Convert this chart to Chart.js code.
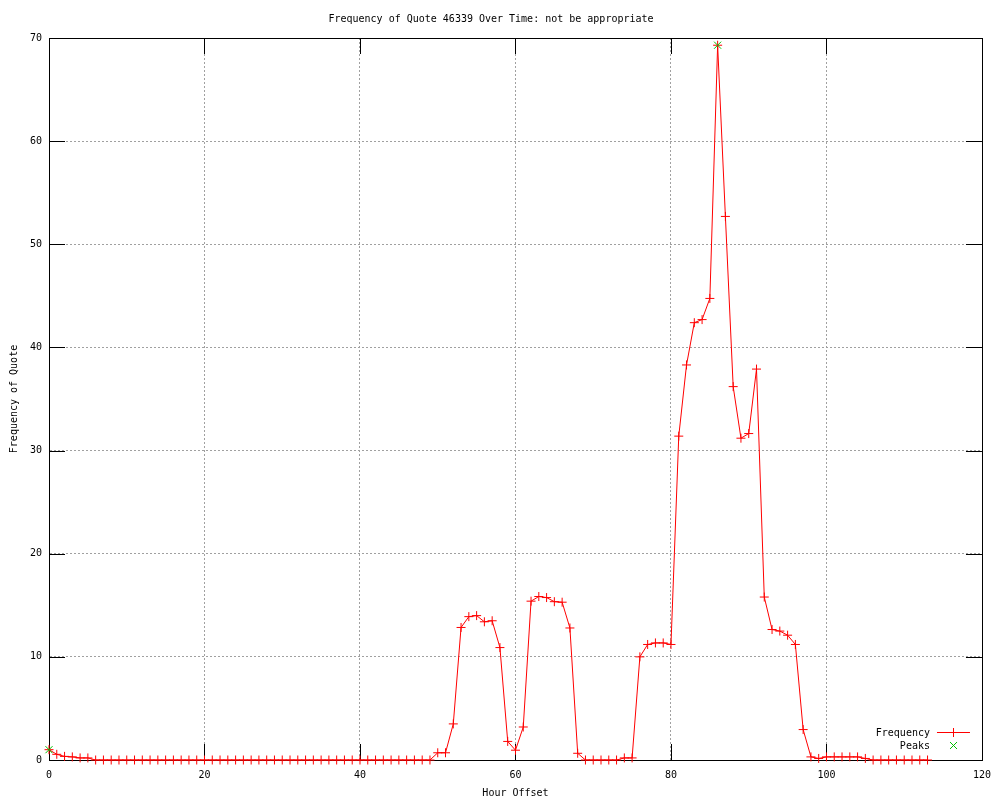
<!DOCTYPE html>
<html>
<head>
<meta charset="utf-8">
<script src="https://cdn.jsdelivr.net/npm/chart.js@4/dist/chart.umd.min.js"></script>
<style>
  body { margin: 0; background: #fff; }
  #wrap { width: 1000px; height: 800px; }
</style>
</head>
<body>
<div id="wrap"><canvas id="quoteChart" width="1000" height="800"></canvas></div>
<script>
// Chart data
const hours = [
    0, 1, 2, 3, 4, 5, 6, 7, 8, 9, 10, 11, 12, 13, 14, 15, 16, 17, 18, 19,
    20, 21, 22, 23, 24, 25, 26, 27, 28, 29, 30, 31, 32, 33, 34, 35, 36, 37, 38, 39,
    40, 41, 42, 43, 44, 45, 46, 47, 48, 49, 50, 51, 52, 53, 54, 55, 56, 57, 58, 59,
    60, 61, 62, 63, 64, 65, 66, 67, 68, 69, 70, 71, 72, 73, 74, 75, 76, 77, 78, 79,
    80, 81, 82, 83, 84, 85, 86, 87, 88, 89, 90, 91, 92, 93, 94, 95, 96, 97, 98, 99,
    100, 101, 102, 103, 104, 105, 106, 107, 108, 109, 110, 111, 112, 113
];
const frequency = [
    1.0, 0.55, 0.35, 0.3, 0.2, 0.2, 0, 0, 0, 0, 0, 0, 0, 0, 0, 0, 0, 0, 0, 0,
    0, 0, 0, 0, 0, 0, 0, 0, 0, 0, 0, 0, 0, 0, 0, 0, 0, 0, 0, 0,
    0, 0, 0, 0, 0, 0, 0, 0, 0, 0, 0.7, 0.7, 3.5, 12.85, 13.9, 14.0, 13.4, 13.5, 10.9, 1.8,
    0.95, 3.2, 15.4, 15.85, 15.75, 15.35, 15.3, 12.8, 0.65, 0, 0, 0, 0, 0, 0.2, 0.2, 10.0, 11.2, 11.35, 11.35,
    11.2, 31.4, 38.3, 42.4, 42.7, 44.75, 69.3, 52.7, 36.2, 31.2, 31.65, 37.9, 15.8, 12.65, 12.5, 12.1, 11.2, 2.95, 0.3, 0.15,
    0.3, 0.3, 0.3, 0.3, 0.3, 0.15, 0, 0, 0, 0, 0, 0, 0, 0
];
const peakHours = [0, 86];
const peakValues = [1.0, 69.3];

const xTicks = [0, 20, 40, 60, 80, 100, 120];
const yTicks = [0, 10, 20, 30, 40, 50, 60, 70];

const FONT = { family: 'DejaVu Sans Mono', size: 10, weight: 'normal' };
const RED = '#ff0000';
const GREEN = '#00c000';
const keyColors = [RED, GREEN];

// Frame + inward tick marks on all four sides
const framePlugin = {
    id: 'frame',
    beforeDatasetsDraw(chart) {
        const { ctx, chartArea: a, scales } = chart;
        const tick = 16;
        const px = v => Math.round(v) + 0.5;
        ctx.save();
        ctx.strokeStyle = '#000';
        ctx.lineWidth = 1;
        ctx.beginPath();
        xTicks.forEach(v => {
            const x = px(scales.x.getPixelForValue(v));
            ctx.moveTo(x, a.bottom); ctx.lineTo(x, a.bottom - tick);
            ctx.moveTo(x, a.top); ctx.lineTo(x, a.top + tick);
        });
        yTicks.forEach(v => {
            const y = px(scales.y.getPixelForValue(v));
            ctx.moveTo(a.left, y); ctx.lineTo(a.left + tick, y);
            ctx.moveTo(a.right, y); ctx.lineTo(a.right - tick, y);
        });
        ctx.stroke();
        ctx.strokeRect(px(a.left), px(a.top), Math.round(a.right - a.left), Math.round(a.bottom - a.top));
        ctx.restore();
    }
};

// gnuplot-style key in the lower right corner
const keyPlugin = {
    id: 'key',
    afterDraw(chart) {
        const { ctx, chartArea: a } = chart;
        const textRight = a.right - 52;
        const sx0 = a.right - 45, sx1 = a.right - 12;
        const mid = Math.round((sx0 + sx1) / 2) + 0.5;
        const rows = [a.bottom - 28, a.bottom - 15];
        ctx.save();
        ctx.font = '10px "DejaVu Sans Mono"';
        ctx.textAlign = 'right';
        ctx.textBaseline = 'middle';
        chart.data.datasets.forEach((ds, i) => {
            const y = Math.round(rows[i]) + 0.5;
            ctx.fillStyle = '#000';
            ctx.fillText(ds.label, textRight, y + 1);
            ctx.strokeStyle = keyColors[i];
            ctx.lineWidth = 1;
            ctx.beginPath();
            if (ds.showLine !== false) {
                ctx.moveTo(sx0, y); ctx.lineTo(sx1, y);
            }
            if (ds.pointStyle === 'cross') {
                ctx.moveTo(mid - 4.5, y); ctx.lineTo(mid + 4.5, y);
                ctx.moveTo(mid, y - 4.5); ctx.lineTo(mid, y + 4.5);
            } else {
                ctx.moveTo(mid - 3.5, y - 3.5); ctx.lineTo(mid + 3.5, y + 3.5);
                ctx.moveTo(mid - 3.5, y + 3.5); ctx.lineTo(mid + 3.5, y - 3.5);
            }
            ctx.stroke();
        });
        ctx.restore();
    }
};

const ctx = document.getElementById('quoteChart');
new Chart(ctx, {
    type: 'line',
    data: {
        datasets: [
            {
                label: 'Frequency',
                data: hours.map((h, i) => ({ x: h, y: frequency[i] })),
                borderColor: RED,
                borderWidth: 1,
                pointStyle: 'cross',
                pointRadius: 4.5,
                pointBorderColor: RED,
                pointBorderWidth: 1,
                tension: 0,
                fill: false,
                clip: false,
                order: 2
            },
            {
                label: 'Peaks',
                data: peakHours.map((h, i) => ({ x: h, y: peakValues[i] })),
                showLine: false,
                pointStyle: 'crossRot',
                pointRadius: 5,
                pointBorderColor: GREEN,
                pointBorderWidth: 1,
                clip: false,
                order: 1
            }
        ]
    },
    options: {
        responsive: false,
        animation: false,
        layout: { padding: { left: 0, right: 18, top: 0, bottom: 0 } },
        plugins: {
            legend: { display: false },
            tooltip: { enabled: false },
            title: {
                display: true,
                text: 'Frequency of Quote 46339 Over Time: not be appropriate',
                color: '#000',
                font: FONT,
                padding: { top: 13, bottom: 13 }
            }
        },
        scales: {
            x: {
                type: 'linear',
                min: 0,
                max: 120,
                afterBuildTicks: s => { s.ticks = xTicks.map(v => ({ value: v })); },
                afterFit: s => { s.height = 40; },
                ticks: { color: '#000', font: FONT, padding: 9, maxRotation: 0 },
                grid: {
                    drawTicks: false,
                    color: c => (c.tick && (c.tick.value === 0 || c.tick.value === 120)) ? 'rgba(0,0,0,0)' : '#a0a0a0'
                },
                border: { display: true, color: '#000', dash: [2, 2] },
                title: {
                    display: true,
                    text: 'Hour Offset',
                    color: '#000',
                    font: FONT,
                    padding: { top: 0, bottom: 1 }
                }
            },
            y: {
                type: 'linear',
                min: 0,
                max: 70,
                afterBuildTicks: s => { s.ticks = yTicks.map(v => ({ value: v })); },
                afterFit: s => { s.width = 49; },
                ticks: { color: '#000', font: FONT, padding: 7 },
                grid: {
                    drawTicks: false,
                    color: c => (c.tick && (c.tick.value === 0 || c.tick.value === 70)) ? 'rgba(0,0,0,0)' : '#a0a0a0'
                },
                border: { display: true, color: '#000', dash: [2, 2] },
                title: {
                    display: true,
                    text: 'Frequency of Quote',
                    color: '#000',
                    font: FONT,
                    padding: { top: 8, bottom: 0 }
                }
            }
        }
    },
    plugins: [framePlugin, keyPlugin]
});
</script>
</body>
</html>
